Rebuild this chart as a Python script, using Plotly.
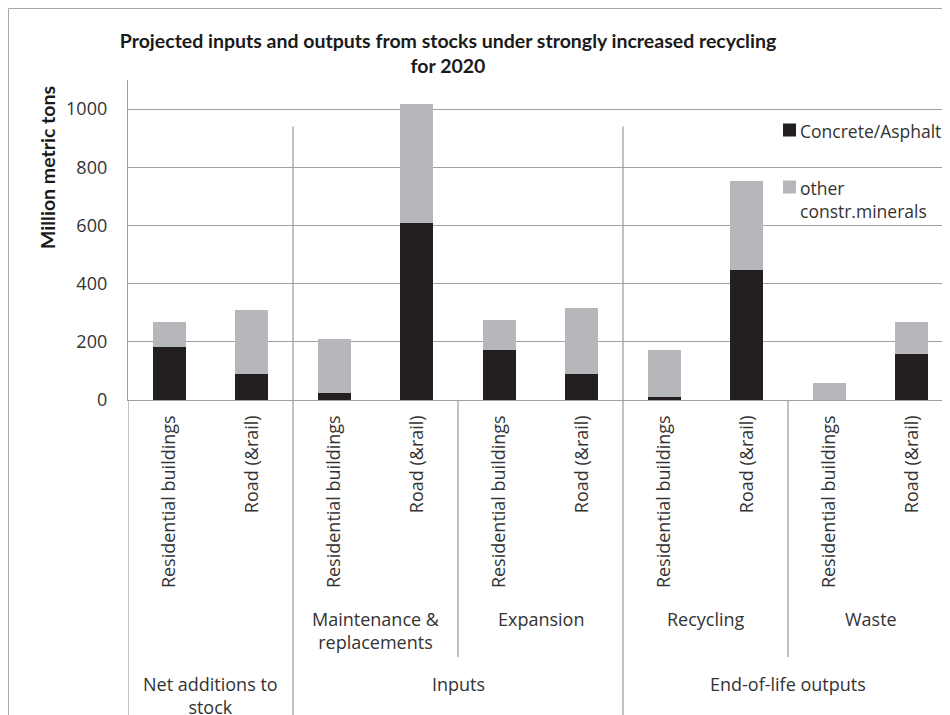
import plotly.graph_objects as go

# ---------------- data ----------------
subcategories = ["Residential buildings", "Road (&rail)"] * 5
stage_labels = ["", "Maintenance &<br>replacements", "Expansion", "Recycling", "Waste"]
section_labels = ["Net additions to<br>stock", "Inputs", "End-of-life outputs"]
section_spans = [(0, 1), (2, 5), (6, 9)]  # index ranges of bars in each section
concrete = [181, 90, 23, 609, 172, 90, 10, 447, 0, 158]
other = [86, 220, 187, 410, 103, 226, 162, 307, 57, 110]
series_names = ["Concrete/Asphalt", "other<br>constr.minerals"]
y_ticks = [0, 200, 400, 600, 800, 1000]

# ---------------- style ----------------
OFF = 8                      # page body margin
W, H = 950 - OFF, 715 - OFF
ML, MT, PH = 128 - OFF, 80 - OFF, 320
MR = 0
MB = H - MT - PH
PW = W - ML - MR
CAT_PX = 82.5
YMAX = 1100
BLACK = "#231f20"
GREY = "#b6b7ba"
LINE = "#a0a0a0"
TXT = "#333333"
FONT = "Open Sans"
TFONT = "Lato"
colors = [BLACK, GREY]

positions = list(range(len(subcategories)))

def px_x(px):   # reference page pixel -> paper x
    return (px - OFF - ML) / PW

def px_y(py):   # reference page pixel -> paper y
    return (MT + PH - (py - OFF)) / PH

fig = go.Figure()
for vals, name, col in zip([concrete, other], series_names, colors):
    fig.add_trace(go.Bar(x=positions, y=vals, name=name.replace("<br>", " "),
                         marker=dict(color=col, line=dict(width=0)),
                         showlegend=False))

shapes = []
# outer chart border
shapes.append(dict(type="rect", xref="paper", yref="paper",
                   x0=px_x(8.5), x1=px_x(990),
                   y0=px_y(760), y1=px_y(8.5),
                   line=dict(color="#a8a8a8", width=1), fillcolor="rgba(0,0,0,0)", layer="below"))
# left axis line extension below plot
shapes.append(dict(type="line", xref="x", yref="paper", x0=-0.5, x1=-0.5,
                   y0=0, y1=px_y(730), line=dict(color=LINE, width=1.3)))
# section dividers (long)
top_div = 940 / YMAX
for (a, b) in section_spans[:-1]:
    xb = b + 0.5
    shapes.append(dict(type="line", xref="x", yref="paper", x0=xb, x1=xb,
                       y0=top_div, y1=px_y(730), line=dict(color=LINE, width=1.3)))
# stage dividers (short)
section_ends = [s[1] for s in section_spans]
for i in range(1, len(stage_labels)):
    if (2 * i - 1) in section_ends:
        continue
    xb = 2 * i - 0.5
    shapes.append(dict(type="line", xref="x", yref="paper", x0=xb, x1=xb,
                       y0=0, y1=px_y(657), line=dict(color=LINE, width=1.3)))

annotations = []
# legend (drawn manually so it does not push the plot margins)
legend_rows = [130, 187]
for name, col, ry in zip(series_names, colors, legend_rows):
    shapes.append(dict(type="rect", xref="paper", yref="paper",
                       x0=px_x(783), x1=px_x(796), y0=px_y(ry + 6.5), y1=px_y(ry - 6.5),
                       fillcolor=col, line=dict(width=0)))
    annotations.append(dict(x=px_x(798), xref="paper", y=px_y(ry - 13), yref="paper",
                            xanchor="left", yanchor="top", align="left", text=name,
                            showarrow=False, font=dict(family=FONT, size=17.5, color=TXT)))
# stage labels
for i, lab in enumerate(stage_labels):
    if not lab:
        continue
    annotations.append(dict(x=2 * i + 0.5, xref="x", y=px_y(605), yref="paper",
                            yanchor="top", xanchor="center", text=lab, showarrow=False,
                            font=dict(family=FONT, size=18, color=TXT)))
# section labels
for lab, (a, b) in zip(section_labels, section_spans):
    annotations.append(dict(x=(a + b) / 2, xref="x", y=px_y(670), yref="paper",
                            yanchor="top", xanchor="center", text=lab, showarrow=False,
                            font=dict(family=FONT, size=18, color=TXT)))
# y axis title
annotations.append(dict(x=px_x(47), xref="paper", y=px_y(168), yref="paper",
                        text="<b>Million metric tons</b>", textangle=-90, showarrow=False,
                        xanchor="center", yanchor="middle",
                        font=dict(family=TFONT, size=19.5, color="#1a1a1a")))

fig.update_layout(
    width=W, height=H,
    margin=dict(l=ML, r=MR, t=MT, b=MB, pad=0, autoexpand=False),
    paper_bgcolor="white", plot_bgcolor="white",
    barmode="stack", bargap=0.6,
    title=dict(text="<b>Projected inputs and outputs from stocks under strongly increased recycling<br>for 2020</b>",
               x=(448 - OFF) / W, xanchor="center", y=1 - 40 / H, yanchor="middle", yref="container",
               font=dict(family=TFONT, size=19.5, color="#1a1a1a")),
    shapes=shapes, annotations=annotations,
    showlegend=False,
)
fig.update_xaxes(range=[-0.5, -0.5 + PW / CAT_PX], tickmode="array", tickvals=positions,
                 ticktext=subcategories, tickangle=-90, ticks="", showgrid=False,
                 showline=True, linecolor=LINE, linewidth=1.3, zeroline=False,
                 ticklabelstandoff=7,
                 tickfont=dict(family=FONT, size=18, color=TXT), fixedrange=True)
fig.update_yaxes(range=[0, YMAX], tickmode="array", tickvals=y_ticks,
                 ticks="", showgrid=True, gridcolor=LINE, gridwidth=1.3,
                 showline=True, linecolor=LINE, linewidth=1.3, zeroline=False,
                 ticklabelstandoff=16,
                 tickfont=dict(family=FONT, size=18, color=TXT), fixedrange=True)

fig.write_html("out.html")
